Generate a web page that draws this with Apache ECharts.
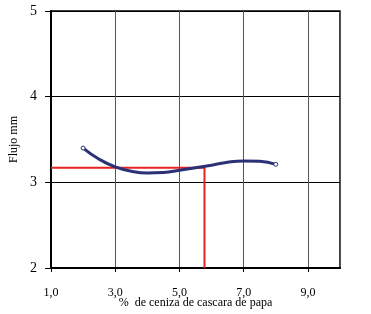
<!DOCTYPE html>
<html>
<head>
<meta charset="utf-8">
<script src="https://cdn.jsdelivr.net/npm/echarts@6/dist/echarts.min.js"></script>
<style>
  html, body { margin: 0; padding: 0; background: #fff; }
  #chart { width: 371px; height: 314px; }
</style>
</head>
<body>
<div id="chart"></div>
<script>
// curva de flujo
const ceniza = [2.0, 2.5, 3.0, 3.5, 4.0, 4.5, 5.0, 5.5, 6.0, 6.5, 7.0, 7.5, 8.0]
const flujo = [3.40, 3.27, 3.18, 3.13, 3.11, 3.115, 3.14, 3.17, 3.20, 3.235, 3.25, 3.245, 3.21]
// líneas de lectura (rojo)
const lecturaX = [1.0, 5.78, 5.78]
const lecturaY = [3.17, 3.17, 2.0]

const serif = 'Liberation Serif'

const chart = echarts.init(document.getElementById('chart'))
chart.setOption({
  animation: false,
  grid: {
    left: 51,
    right: 31,
    top: 11,
    bottom: 46,
    outerBoundsMode: 'none',
    containLabel: false,
    show: true,
    borderColor: '#000',
    borderWidth: 1.5
  },
  xAxis: {
    type: 'value',
    min: 1,
    max: 10,
    interval: 2,
    name: '%  de ceniza de cascara de papa',
    nameLocation: 'middle',
    nameGap: 29,
    nameMoveOverlap: false,
    nameTextStyle: { fontFamily: serif, fontSize: 12, color: '#000' },
    axisLine: { show: true, lineStyle: { color: '#000', width: 2 } },
    axisTick: { show: true, length: 4, lineStyle: { color: '#000' } },
    axisLabel: {
      margin: 19,
      fontFamily: serif,
      fontSize: 12,
      color: '#000',
      showMaxLabel: false,
      formatter: v => v.toFixed(1).replace('.', ',')
    },
    splitLine: { show: true, lineStyle: { color: '#555', width: 1 } }
  },
  yAxis: {
    type: 'value',
    min: 2,
    max: 5,
    interval: 1,
    name: 'Flujo mm',
    nameLocation: 'middle',
    nameGap: 31,
    nameMoveOverlap: false,
    nameTextStyle: { fontFamily: serif, fontSize: 12, color: '#000' },
    axisLine: { show: true, lineStyle: { color: '#000', width: 2 } },
    axisTick: { show: true, length: 6, lineStyle: { color: '#000' } },
    axisLabel: { margin: 14, fontFamily: serif, fontSize: 14, color: '#000' },
    splitLine: { show: true, lineStyle: { color: '#000', width: 1 } }
  },
  series: [
    {
      type: 'line',
      data: lecturaX.map((x, i) => [x, lecturaY[i]]),
      symbol: 'none',
      lineStyle: { color: '#E52421', width: 2 },
      z: 2
    },
    {
      type: 'line',
      data: ceniza.map((x, i) => [x, flujo[i]]),
      smooth: true,
      // marcadores sólo en los extremos
      symbol: (val, params) => (params.dataIndex === 0 || params.dataIndex === ceniza.length - 1) ? 'circle' : 'none',
      symbolSize: 4,
      showSymbol: true,
      itemStyle: { color: '#fff', borderColor: '#2B3175', borderWidth: 1 },
      lineStyle: { color: '#2B3175', width: 3 },
      z: 3
    }
  ]
})
</script>
</body>
</html>
